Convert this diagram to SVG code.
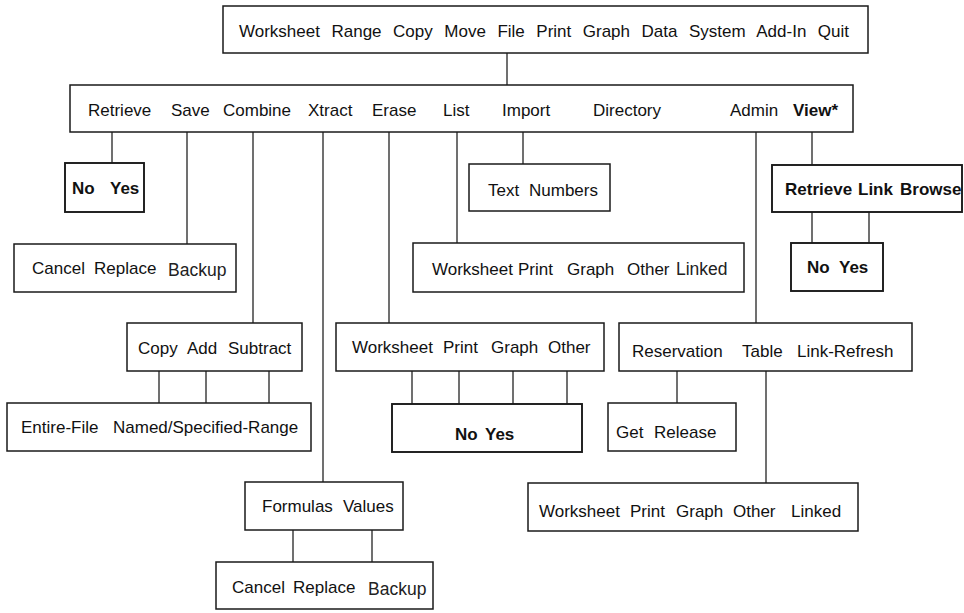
<svg xmlns="http://www.w3.org/2000/svg" width="964" height="613" viewBox="0 0 964 613">
  <style>
    .box { fill: #ffffff; stroke: #1a1a1a; stroke-width: 1.5; }
    .box.heavy { stroke-width: 1.9; }
    .wire { stroke: #1a1a1a; stroke-width: 1.25; fill: none; }
    text { font-family: "Liberation Sans", Arial, Helvetica, sans-serif; font-size: 17px; fill: #111111; }
    text.b { font-weight: bold; }
    .alt { font-size: 17.5px; fill: #222222; }
  </style>
  <rect x="0" y="0" width="964" height="613" fill="#ffffff"/>

  <!-- connectors -->
  <g id="connectors" class="wire">
    <line x1="507" y1="53" x2="507" y2="85"/>
    <line x1="112" y1="132" x2="112" y2="163"/>
    <line x1="187" y1="132" x2="187" y2="244"/>
    <line x1="253" y1="132" x2="253" y2="323"/>
    <line x1="323" y1="132" x2="323" y2="482"/>
    <line x1="389" y1="132" x2="389" y2="323"/>
    <line x1="457" y1="132" x2="457" y2="243"/>
    <line x1="523" y1="132" x2="523" y2="164"/>
    <line x1="756" y1="132" x2="756" y2="323"/>
    <line x1="812" y1="132" x2="812" y2="165"/>
    <line x1="159" y1="371" x2="159" y2="403"/>
    <line x1="206" y1="371" x2="206" y2="403"/>
    <line x1="269" y1="371" x2="269" y2="403"/>
    <line x1="412" y1="371" x2="412" y2="404"/>
    <line x1="459" y1="371" x2="459" y2="404"/>
    <line x1="513" y1="371" x2="513" y2="404"/>
    <line x1="567" y1="371" x2="567" y2="404"/>
    <line x1="812" y1="212" x2="812" y2="243"/>
    <line x1="869" y1="212" x2="869" y2="243"/>
    <line x1="677" y1="371" x2="677" y2="403"/>
    <line x1="766" y1="371" x2="766" y2="483"/>
    <line x1="293" y1="530" x2="293" y2="562"/>
    <line x1="372" y1="530" x2="372" y2="562"/>
  </g>

  <!-- main menu -->
  <g id="main-menu">
    <rect class="box" x="223" y="6" width="645" height="47"/>
    <text x="239" y="37" word-spacing="6.8">Worksheet Range Copy Move File Print Graph Data System Add-In Quit</text>
  </g>

  <!-- file menu -->
  <g id="file-menu">
    <rect class="box" x="70" y="85" width="783" height="47"/>
    <text y="116"><tspan x="88">Retrieve</tspan><tspan x="171">Save</tspan><tspan x="223">Combine</tspan><tspan x="308">Xtract</tspan><tspan x="372">Erase</tspan><tspan x="443">List</tspan><tspan x="502">Import</tspan><tspan x="593">Directory</tspan><tspan x="730">Admin</tspan><tspan x="793" font-weight="bold">View*</tspan></text>
  </g>

  <g id="retrieve-confirm">
    <rect class="box heavy" x="65" y="163" width="79" height="49"/>
    <text class="b" y="194"><tspan x="72">No</tspan><tspan x="110">Yes</tspan></text>
  </g>

  <g id="save-options">
    <rect class="box" x="14" y="244" width="222" height="48"/>
    <text y="274"><tspan x="32">Cancel</tspan><tspan x="94">Replace</tspan></text>
    <text class="alt" x="168" y="276">Backup</text>
  </g>

  <g id="combine-options">
    <rect class="box" x="127" y="323" width="175" height="48"/>
    <text y="354"><tspan x="138">Copy</tspan><tspan x="187">Add</tspan><tspan x="228">Subtract</tspan></text>
  </g>

  <g id="combine-source">
    <rect class="box" x="7" y="403" width="304" height="48"/>
    <text y="433"><tspan x="21">Entire-File</tspan><tspan x="113">Named/Specified-Range</tspan></text>
  </g>

  <g id="xtract-options">
    <rect class="box" x="245" y="482" width="158" height="48"/>
    <text y="512"><tspan x="262">Formulas</tspan><tspan x="343">Values</tspan></text>
  </g>

  <g id="xtract-save">
    <rect class="box" x="216" y="562" width="217" height="47"/>
    <text y="593"><tspan x="232">Cancel</tspan><tspan x="293">Replace</tspan></text>
    <text class="alt" x="368" y="595">Backup</text>
  </g>

  <g id="erase-options">
    <rect class="box" x="336" y="323" width="268" height="48"/>
    <text y="353"><tspan x="352">Worksheet</tspan><tspan x="443">Print</tspan><tspan x="491">Graph</tspan><tspan x="548">Other</tspan></text>
  </g>

  <g id="erase-confirm">
    <rect class="box heavy" x="392" y="404" width="190" height="48"/>
    <text class="b" y="440"><tspan x="455">No</tspan><tspan x="485">Yes</tspan></text>
  </g>

  <g id="list-options">
    <rect class="box" x="413" y="243" width="331" height="49"/>
    <text y="275"><tspan x="432">Worksheet</tspan><tspan x="518">Print</tspan><tspan x="567">Graph</tspan><tspan x="627">Other</tspan></text>
    <text class="alt" x="676" y="275" font-size="16">Linked</text>
  </g>

  <g id="import-options">
    <rect class="box" x="469" y="164" width="141" height="47"/>
    <text y="196"><tspan x="488">Text</tspan><tspan x="529">Numbers</tspan></text>
  </g>

  <g id="view-options">
    <rect class="box heavy" x="772" y="165" width="190" height="47"/>
    <text class="b" y="195" font-size="16"><tspan x="785">Retrieve</tspan><tspan x="858">Link</tspan><tspan x="900">Browse</tspan></text>
  </g>

  <g id="view-confirm">
    <rect class="box heavy" x="791" y="243" width="92" height="48"/>
    <text class="b" y="273"><tspan x="807">No</tspan><tspan x="839">Yes</tspan></text>
  </g>

  <g id="admin-options">
    <rect class="box" x="619" y="323" width="293" height="48"/>
    <text y="357"><tspan x="632">Reservation</tspan><tspan x="742">Table</tspan><tspan x="797">Link-Refresh</tspan></text>
  </g>

  <g id="reservation-options">
    <rect class="box" x="608" y="403" width="128" height="48"/>
    <text y="438"><tspan x="616">Get</tspan><tspan x="654">Release</tspan></text>
  </g>

  <g id="link-refresh-options">
    <rect class="box" x="528" y="483" width="330" height="48"/>
    <text y="517"><tspan x="539">Worksheet</tspan><tspan x="630">Print</tspan><tspan x="676">Graph</tspan><tspan x="733">Other</tspan><tspan x="791">Linked</tspan></text>
  </g>
</svg>
